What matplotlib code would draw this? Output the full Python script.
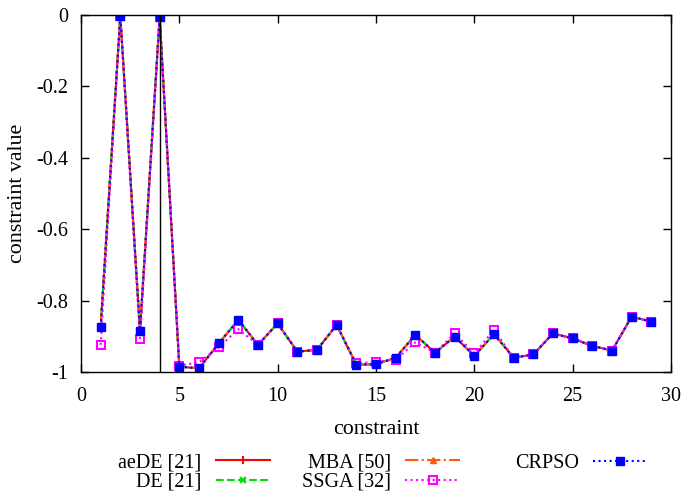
import matplotlib as mpl
mpl.use('Agg')
import matplotlib.pyplot as plt
from matplotlib.ticker import FormatStrFormatter

plt.rcParams['font.family'] = ['Liberation Serif', 'DejaVu Serif']
plt.rcParams['axes.unicode_minus'] = False

# constraint index
constraints = list(range(1, 30))

# values
crpso = [-0.873, -0.002, -0.884, -0.005, -0.985, -0.990, -0.920, -0.854, -0.924, -0.864,
         -0.943, -0.938, -0.868, -0.980, -0.978, -0.960, -0.896, -0.946, -0.901, -0.955,
         -0.894, -0.960, -0.951, -0.892, -0.906, -0.927, -0.940, -0.845, -0.859]
aede = list(crpso)
de = list(crpso)
mba = list(crpso)
ssga = [-0.924, -0.002, -0.908, -0.005, -0.982, -0.973, -0.931, -0.880, -0.924, -0.864,
        -0.943, -0.938, -0.868, -0.976, -0.971, -0.966, -0.917, -0.946, -0.892, -0.948,
        -0.882, -0.960, -0.951, -0.892, -0.906, -0.927, -0.940, -0.845, -0.859]

fig = plt.figure(figsize=(6.84, 4.95), dpi=100)
ax = fig.add_axes([0.1184, 0.2485, 0.8626, 0.7212])

l1, = ax.plot(constraints, aede, '-', color='#ff0000', marker='+', ms=6, mew=1.5, lw=1.5,
              label='aeDE [21]')
l2, = ax.plot(constraints, de, '--', color='#00e000', marker='x', ms=5, mew=1.5, lw=1.5,
              label='DE [21]')
l3, = ax.plot(constraints, mba, '-.', color='#ff5a10', marker='^', ms=5, lw=1.5,
              label='MBA [50]')
l4, = ax.plot(constraints, ssga, ':', color='#ff00ff', marker='s', ms=6, mfc='none', mew=1.5,
              lw=1.5, label='SSGA [32]')
l5, = ax.plot(constraints, crpso, ':', color='#0000ff', marker='s', ms=5.5, lw=1.5,
              label='CRPSO')

ax.axvline(4, color='black', lw=1)

ax.set_xlim(0, 30)
ax.set_ylim(-1, 0)
ax.set_xticks([0, 5, 10, 15, 20, 25, 30])
ax.set_yticks([0, -0.2, -0.4, -0.6, -0.8, -1])
ax.yaxis.set_major_formatter(FormatStrFormatter('%g'))
ax.tick_params(direction='in', length=6, width=1, labelsize=14.5, top=True, right=True)
ax.tick_params(axis='x', pad=11)
ax.tick_params(axis='y', pad=9.5)
for s in ax.spines.values():
    s.set_linewidth(1)

ax.set_xlabel('constraint', fontsize=15.8, labelpad=10)
ax.set_ylabel('constraint value', fontsize=15.8, labelpad=6)

leg_kw = dict(frameon=False, markerfirst=False, fontsize=14.5, handlelength=2.7,
              handletextpad=0.7, columnspacing=1.6, labelspacing=0.0, borderaxespad=0,
              loc='center')
fig.legend(handles=[l1, l2, l3, l4], ncol=2, bbox_to_anchor=(289 / 684, 1 - 472.5 / 495), **leg_kw)
fig.legend(handles=[l5], ncol=1, bbox_to_anchor=(581 / 684, 1 - 463 / 495), **leg_kw)

plt.savefig('out.png', dpi=100)
